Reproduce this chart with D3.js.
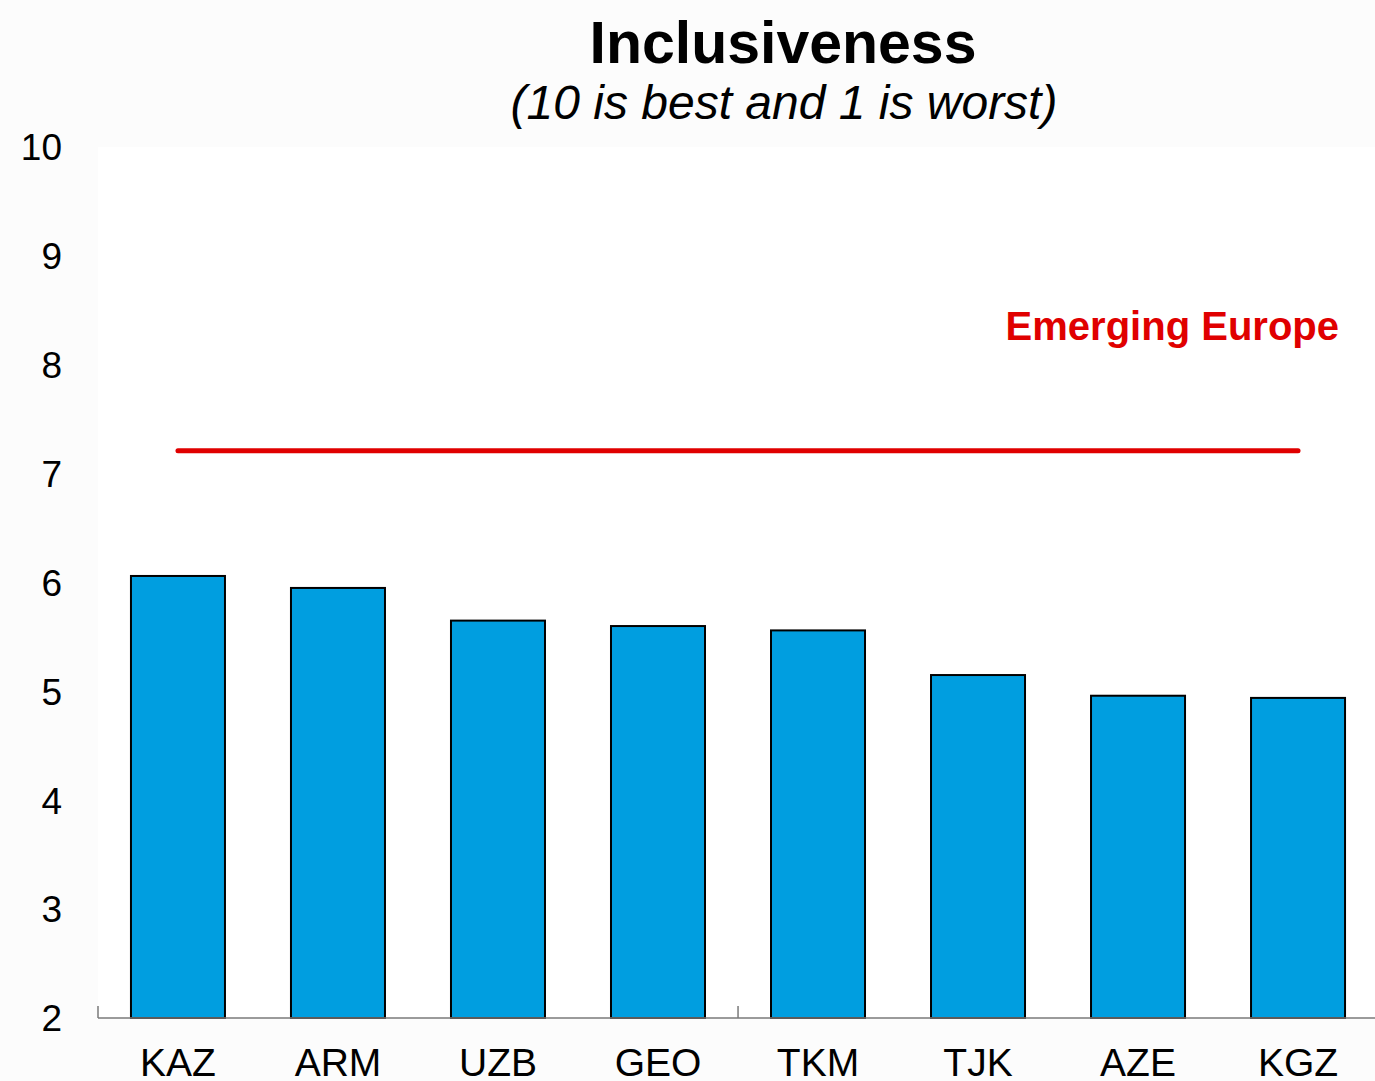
<!DOCTYPE html>
<html><head><meta charset="utf-8">
<script src="https://cdn.jsdelivr.net/npm/d3@7"></script>
<style>html,body{margin:0;padding:0;background:#fcfcfc;}svg{display:block;font-family:"Liberation Sans",Arial,sans-serif;}</style>
</head><body>
<script>
const categories = ["KAZ","ARM","UZB","GEO","TKM","TJK","AZE","KGZ"];
const values = [6.06, 5.95, 5.65, 5.60, 5.56, 5.15, 4.96, 4.94];
const benchmarkLabel = "Emerging Europe";
const benchmarkValue = 7.21;
const yTicks = [2,3,4,5,6,7,8,9,10];
const titleText = "Inclusiveness";
const subtitleText = "(10 is best and 1 is worst)";

(function(){
const W = 1375, H = 1081;
const mLeft = 98, mRight = 1378, mTop = 147, mBottom = 1018;
const svg = d3.select("body").append("svg").attr("width", W).attr("height", H);
svg.append("rect").attr("width", W).attr("height", H).attr("fill", "#fcfcfc");
svg.append("rect").attr("x", mLeft).attr("y", mTop).attr("width", W - mLeft).attr("height", mBottom - mTop).attr("fill", "#ffffff");

const x = d3.scaleBand().domain(categories).range([mLeft, mRight]).paddingInner(0.4125).paddingOuter(0.206);
const y = d3.scaleLinear().domain([2, 10]).range([mBottom, mTop]);

// bars
svg.append("g").selectAll("rect").data(categories).join("rect")
  .attr("x", d => x(d)).attr("width", x.bandwidth())
  .attr("y", (d,i) => y(values[i])).attr("height", (d,i) => y(2) - y(values[i]))
  .attr("fill", "#009ee0").attr("stroke", "#000").attr("stroke-width", 2);

// x axis line and ticks
svg.append("line").attr("x1", mLeft).attr("x2", W).attr("y1", mBottom).attr("y2", mBottom)
  .attr("stroke", "#7a7a7a").attr("stroke-width", 1.5);
svg.append("g").selectAll("line").data([0,4,8]).join("line")
  .attr("x1", i => mLeft + i * x.step()).attr("x2", i => mLeft + i * x.step())
  .attr("y1", mBottom).attr("y2", mBottom - 12)
  .attr("stroke", "#7a7a7a").attr("stroke-width", 1.5);

// category labels
svg.append("g").selectAll("text").data(categories).join("text")
  .attr("x", d => x(d) + x.bandwidth()/2).attr("y", 1076)
  .attr("text-anchor", "middle").attr("font-size", 39).attr("fill", "#000").text(d => d);

// y labels
svg.append("g").selectAll("text").data(yTicks).join("text")
  .attr("x", 62).attr("y", d => y(d)).attr("dy", "0.36em")
  .attr("text-anchor", "end").attr("font-size", 37).attr("fill", "#000").text(d => d);

// benchmark line
const c0 = x(categories[0]) + x.bandwidth()/2, c1 = x(categories[categories.length-1]) + x.bandwidth()/2;
svg.append("line").attr("x1", c0).attr("x2", c1).attr("y1", y(benchmarkValue)).attr("y2", y(benchmarkValue))
  .attr("stroke", "#e00000").attr("stroke-width", 5).attr("stroke-linecap", "round");
svg.append("text").attr("x", 1339).attr("y", 340).attr("text-anchor", "end")
  .attr("font-size", 40).attr("font-weight", "bold").attr("fill", "#e00000").text(benchmarkLabel);

// titles
svg.append("text").attr("x", 783).attr("y", 63).attr("text-anchor", "middle")
  .attr("font-size", 59).attr("font-weight", "bold").attr("fill", "#000").text(titleText);
svg.append("text").attr("x", 784).attr("y", 119).attr("text-anchor", "middle")
  .attr("font-size", 48).attr("font-style", "italic").attr("fill", "#000").text(subtitleText);
})();
</script>
</body></html>
